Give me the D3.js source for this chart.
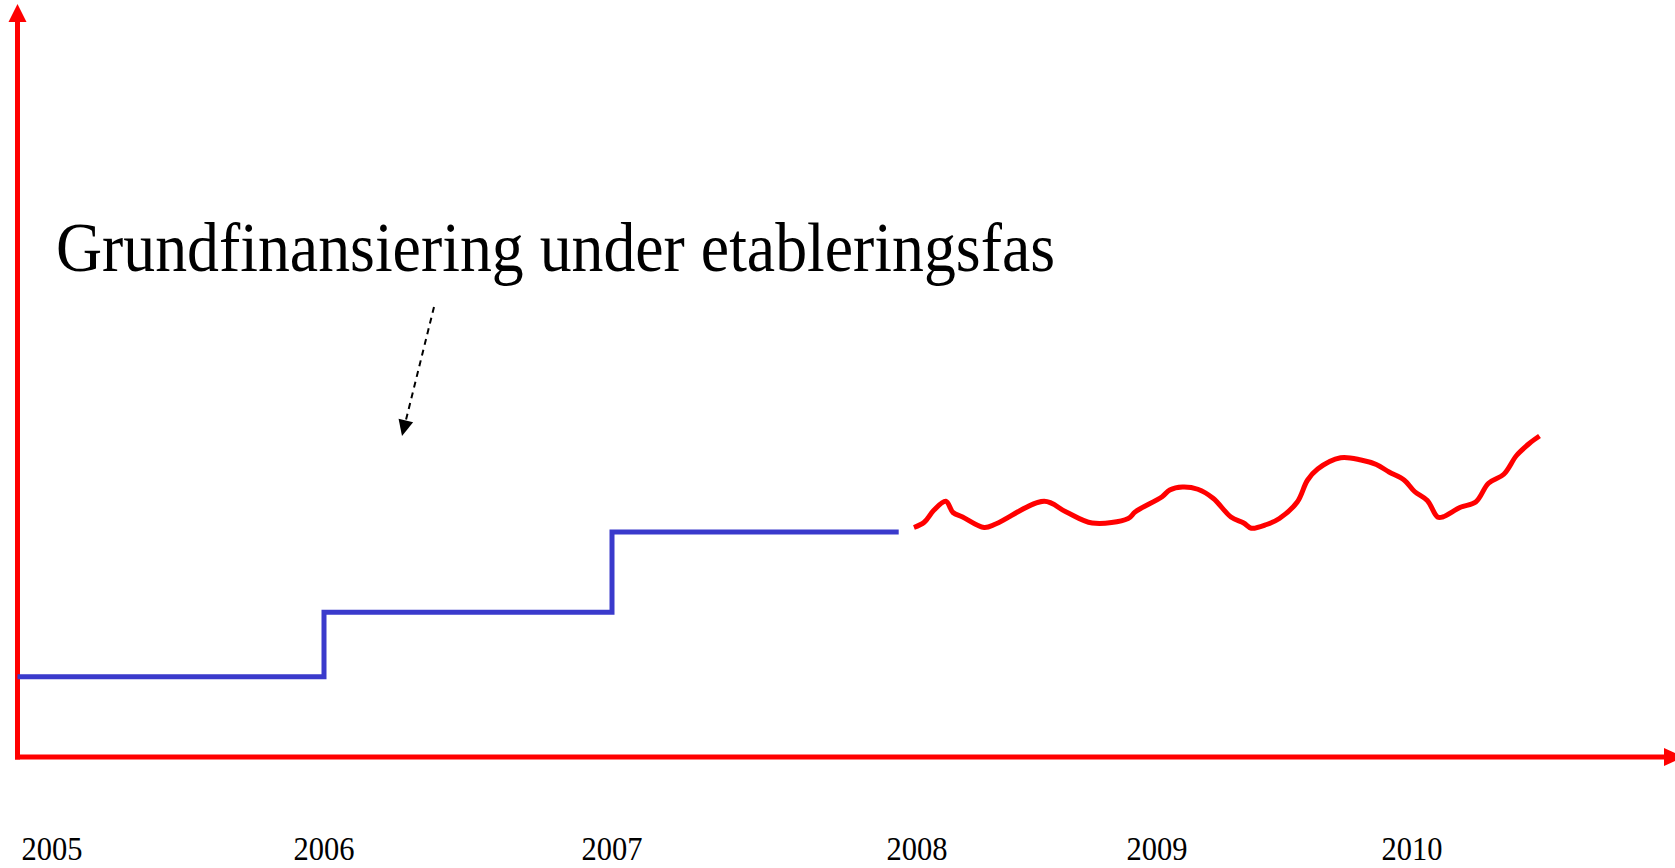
<!DOCTYPE html>
<html>
<head>
<meta charset="utf-8">
<script src="https://cdn.jsdelivr.net/npm/d3@7"></script>
<style>
  body { margin: 0; background: #fff; }
  svg { display: block; }
</style>
</head>
<body>
<svg width="1675" height="868"></svg>
<script>
const width = 1675;
const height = 868;

// Year labels under the axis
const years = [2005, 2006, 2007, 2008, 2009, 2010];

// Blue step series: grundfinansiering per year
const stepYears = [2005, 2006, 2007];
const stepLevels = [10.7, 19.3, 30.0];
const stepEnd = 2007.94;

// Red wavy series after 2008
const trendYears = [2007.99, 2008.03, 2008.07, 2008.12, 2008.15, 2008.19, 2008.28, 2008.33,
    2008.53, 2008.62, 2008.73, 2008.88, 2008.91, 2009.02, 2009.05, 2009.10, 2009.16, 2009.22,
    2009.29, 2009.34, 2009.37, 2009.43, 2009.48, 2009.55, 2009.59, 2009.63, 2009.72, 2009.80,
    2009.86, 2009.91, 2009.97, 2010.01, 2010.06, 2010.10, 2010.12, 2010.19, 2010.25, 2010.30,
    2010.36, 2010.41, 2010.46, 2010.50];
const trendValues = [30.6, 31.3, 32.9, 34.1, 32.6, 32.0, 30.6, 31.1,
    34.1, 32.7, 31.2, 31.8, 32.7, 34.7, 35.6, 36.0, 35.7, 34.5,
    32.0, 31.2, 30.5, 31.0, 31.8, 34.0, 36.9, 38.4, 39.9, 39.6,
    39.0, 38.0, 36.9, 35.4, 34.2, 32.0, 32.0, 33.3, 34.0, 36.5,
    37.7, 40.2, 41.8, 42.8];

const noteText = "Grundfinansiering under etableringsfas";

// Layout
let originX = 17.5,
    originY = 757,
    axisTop = 4,
    axisColor = "#ff0000",
    stepColor = "#3a3acc",
    fontFamily = "'Times New Roman', 'Liberation Serif', serif";

const svg = d3.select("svg");

// Hand-placed year positions (the original slide is not evenly spaced)
const x = d3.scaleLinear()
    .domain(years.concat([2011]))
    .range([52, 324, 612, 917, 1157, 1412, 1667]);

const y = d3.scaleLinear()
    .domain([0, 100])
    .range([originY, 7]);

// ======= AXES WITH ARROWS =======
svg.append("line")
    .attr("x1", originX).attr("y1", originY + 2.5)
    .attr("x2", originX).attr("y2", axisTop + 16)
    .attr("stroke", axisColor)
    .attr("stroke-width", 5);

svg.append("path")
    .attr("d", `M${originX},${axisTop} L${originX - 9},${axisTop + 18} L${originX + 9},${axisTop + 18} Z`)
    .attr("fill", axisColor);

svg.append("line")
    .attr("x1", originX - 2.5).attr("y1", originY)
    .attr("x2", 1666).attr("y2", originY)
    .attr("stroke", axisColor)
    .attr("stroke-width", 5);

svg.append("path")
    .attr("d", `M1664,${originY - 9} L1684,${originY} L1664,${originY + 9} Z`)
    .attr("fill", axisColor);

// year labels
svg.append("g")
    .selectAll("text")
    .data(years)
    .enter()
    .append("text")
    .attr("transform", d => `translate(${x(d)}, 860) scale(1, 1.07)`)
    .attr("text-anchor", "middle")
    .attr("font-family", fontFamily)
    .attr("font-size", "30.5px")
    .attr("fill", "#000")
    .text(d => d);

// ======= STEP LINE =======
const stepData = stepYears.map((yr, i) => ({year: i === 0 ? x.invert(originX) : yr, value: stepLevels[i]}));
stepData.push({year: stepEnd, value: stepLevels[stepLevels.length - 1]});

svg.append("path")
    .datum(stepData)
    .attr("d", d3.line()
        .x(d => x(d.year))
        .y(d => y(d.value))
        .curve(d3.curveStepAfter))
    .attr("fill", "none")
    .attr("stroke", stepColor)
    .attr("stroke-width", 5);

// ======= WAVY LINE =======
const trendData = trendYears.map((yr, i) => ({year: yr, value: trendValues[i]}));

svg.append("path")
    .datum(trendData)
    .attr("d", d3.line()
        .x(d => x(d.year))
        .y(d => y(d.value))
        .curve(d3.curveCatmullRom.alpha(0.5)))
    .attr("fill", "none")
    .attr("stroke", axisColor)
    .attr("stroke-width", 5)
    .attr("stroke-linejoin", "round");

// ======= ANNOTATION =======
svg.append("text")
    .attr("transform", "translate(56, 271) scale(1, 1.08)")
    .attr("font-family", fontFamily)
    .attr("font-size", "63.8px")
    .attr("fill", "#000")
    .text(noteText);

// dashed pointer from the note down to the steps
const from = [434, 307], tip = [402, 436];
const ang = Math.atan2(tip[1] - from[1], tip[0] - from[0]);
const headLen = 16, headHalf = 7.5;
const base = [tip[0] - headLen * Math.cos(ang), tip[1] - headLen * Math.sin(ang)];

svg.append("line")
    .attr("x1", from[0]).attr("y1", from[1])
    .attr("x2", base[0]).attr("y2", base[1])
    .attr("stroke", "#000")
    .attr("stroke-width", 2)
    .attr("stroke-dasharray", "6,5");

svg.append("path")
    .attr("d", `M${tip[0]},${tip[1]}` +
        ` L${base[0] + headHalf * Math.sin(ang)},${base[1] - headHalf * Math.cos(ang)}` +
        ` L${base[0] - headHalf * Math.sin(ang)},${base[1] + headHalf * Math.cos(ang)} Z`)
    .attr("fill", "#000");
</script>
</body>
</html>
